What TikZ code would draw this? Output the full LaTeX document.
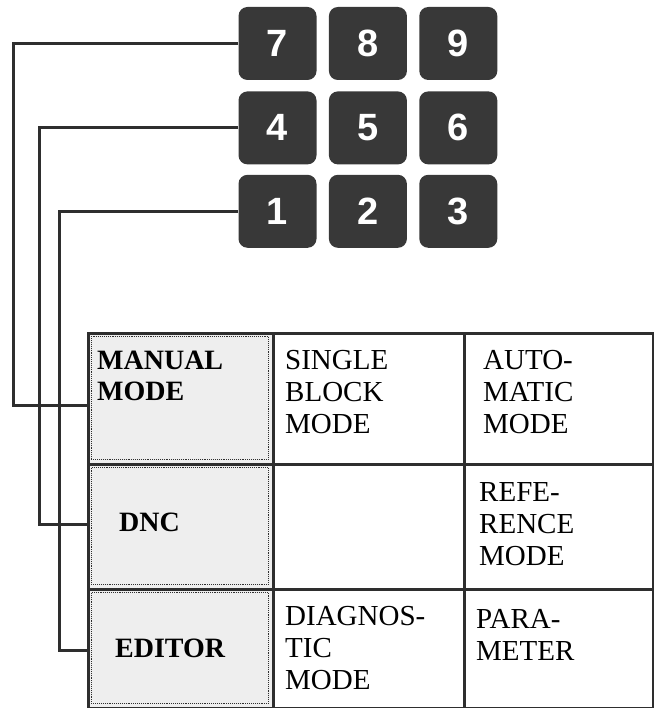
\documentclass[tikz,border=0pt]{standalone}
\usepackage{fontspec}
\setmainfont{Liberation Serif}
\newfontfamily\keyfont{Liberation Sans}
\usetikzlibrary{positioning}
\usepackage{xcolor}
\definecolor{ink}{HTML}{2E2E2E}
\definecolor{keycap}{HTML}{383838}
\definecolor{shade}{HTML}{EEEEEE}
\tikzset{
  key/.style={rectangle,rounded corners=9pt,fill=keycap,text=white,font=\keyfont\bfseries\fontsize{38}{38}\selectfont,minimum width=78pt,minimum height=73pt,inner sep=0pt},
  cell/.style={rectangle,draw=ink,line width=2.5pt,anchor=north west,inner sep=0pt},
  modecell/.style={cell,fill=shade},
  dotbox/.style={rectangle,draw=ink,densely dotted,line width=0.9pt,anchor=north west,inner sep=0pt},
  label/.style={anchor=base west,align=left,inner sep=0pt,font=\fontsize{29}{32}\selectfont},
  modelabel/.style={label,font=\bfseries\fontsize{28}{31}\selectfont},
  wire/.style={draw=ink,line width=3pt}
}
\begin{document}
\begin{tikzpicture}[x=1pt,y=-1pt,node distance=11pt and 12pt]
\useasboundingbox (0,0) rectangle (653,708);
% keypad
\node[key] (k7) at (277.5,43.5) {7};
\node[key,right=of k7] (k8) {8};
\node[key,right=of k8] (k9) {9};
\node[key,below=of k7] (k4) {4};
\node[key,right=of k4] (k5) {5};
\node[key,right=of k5] (k6) {6};
\node[key,below=10pt of k4] (k1) {1};
\node[key,right=of k1] (k2) {2};
\node[key,right=of k2] (k3) {3};

% mode table
\node[modecell,minimum width=185pt,minimum height=131pt] (c11) at (87,332) {};
\node[cell,minimum width=191pt,minimum height=131pt] (c12) at (272,332) {};
\node[cell,minimum width=189pt,minimum height=131pt] (c13) at (463,332) {};
\node[modecell,minimum width=185pt,minimum height=125pt] (c21) at (87,463) {};
\node[cell,minimum width=191pt,minimum height=125pt] (c22) at (272,463) {};
\node[cell,minimum width=189pt,minimum height=125pt] (c23) at (463,463) {};
\node[modecell,minimum width=185pt,minimum height=119pt] (c31) at (87,588) {};
\node[cell,minimum width=191pt,minimum height=119pt] (c32) at (272,588) {};
\node[cell,minimum width=189pt,minimum height=119pt] (c33) at (463,588) {};

\node[dotbox,minimum width=177pt,minimum height=123pt] (d1) at (91,336) {};
\node[dotbox,minimum width=177pt,minimum height=117pt] (d2) at (91,467) {};
\node[dotbox,minimum width=177pt,minimum height=111pt] (d3) at (91,592) {};

% base = last line
\node[modelabel] (manual) at (97,400) {MANUAL\\MODE};
\node[label] (single) at (285,433) {SINGLE\\BLOCK\\MODE};
\node[label] (auto) at (483,433) {AUTO-\\MATIC\\MODE};
\node[modelabel] (dnc) at (119,531) {DNC};
\node[label] (refe) at (479,565) {REFE-\\RENCE\\MODE};
\node[modelabel] (editor) at (115,657) {EDITOR};
\node[label] (diag) at (285,689) {DIAGNOS-\\TIC\\MODE};
\node[label] (para) at (476,660) {PARA-\\METER};

% wiring
\coordinate (j7) at (13,405);
\coordinate (j4) at (39,524);
\coordinate (j1) at (59,650);
\draw[wire] (k7.west) -| (j7) -- (j7 -| c11.west);
\draw[wire] (k4.west) -| (j4) -- (j4 -| c21.west);
\draw[wire] (k1.west) -| (j1) -- (j1 -| c31.west);
\end{tikzpicture}
\end{document}
